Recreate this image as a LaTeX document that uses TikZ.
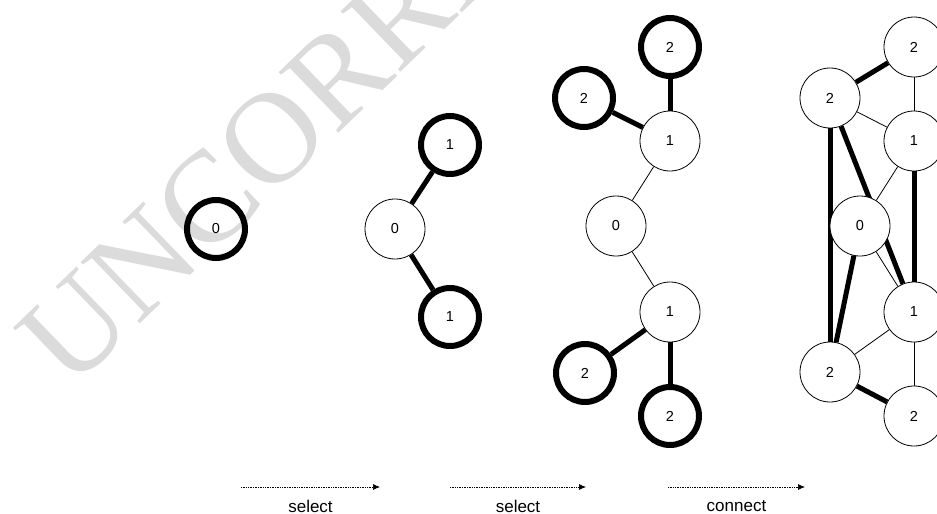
\documentclass[tikz,border=0pt]{standalone}
\usepackage{fontspec}
\setmainfont{Liberation Sans}
\newfontfamily\wmfont{Liberation Serif}
\usetikzlibrary{arrows.meta,positioning}
\pgfdeclarelayer{background}
\pgfsetlayers{background,main}

\tikzset{
  vertex/.style={shape=circle, draw, line width=0.8pt, minimum size=60pt,
    inner sep=0pt, font=\fontsize{14.5}{16}\selectfont},
  picked/.style={vertex, line width=6pt, minimum size=58pt},
  thinedge/.style={line width=0.8pt},
  thickedge/.style={line width=5pt},
  steparrow/.style={densely dotted, line width=0.7pt, -{Latex[length=7pt,width=6pt]}},
  steplabel/.style={below=13pt, inner sep=0pt, font=\fontsize{17}{20}\selectfont},
  wmark/.style={text=black!14, rotate=44, anchor=base west, inner sep=0pt,
    font=\wmfont\fontsize{130}{130}\selectfont}
}

\begin{document}
\begin{tikzpicture}[x=1pt, y=-1pt]
    \useasboundingbox (0,0) rectangle (937,514);
    % start
    \node[picked] (a0) at (216,229) {0};
    % first select
    \node[vertex] (b0) at (395,229) {0};
    \node[picked] (b1u) at (450,145) {1};
    \node[picked] (b1d) at (450,317) {1};
    % second select
    \node[picked] (c2t) at (670,47) {2};
    \node[picked] (c2l) at (584,98) {2};
    \node[vertex] (c1u) at (670,141) {1};
    \node[vertex] (c0) at (616,226) {0};
    \node[vertex] (c1d) at (670,312) {1};
    \node[picked] (c2ld) at (585,373) {2};
    \node[picked] (c2b) at (670,416) {2};
    % connect
    \node[vertex] (d2t) at (914,47) {2};
    \node[vertex] (d2l) at (830,98) {2};
    \node[vertex] (d1u) at (914,141) {1};
    \node[vertex, fill=white] (d0) at (860,226) {0};
    \node[vertex] (d1d) at (914,312) {1};
    \node[vertex] (d2ld) at (830,372) {2};
    \node[vertex] (d2b) at (914,416) {2};
    %
    \begin{pgfonlayer}{background}
      \node[wmark] (wm) at (70,392) {UNCORRECTED};
      %
      \draw[thickedge] (b0) -- (b1u);
      \draw[thickedge] (b0) -- (b1d);
      %
      \draw[thickedge] (c1u) -- (c2t);
      \draw[thickedge] (c1u) -- (c2l);
      \draw[thinedge] (c1u) -- (c0);
      \draw[thinedge] (c0) -- (c1d);
      \draw[thickedge] (c1d) -- (c2ld);
      \draw[thickedge] (c1d) -- (c2b);
      %
      \draw[thickedge] (d2l) -- (d2t);
      \draw[thinedge] (d2t) -- (d1u);
      \draw[thinedge] (d2l) -- (d1u);
      \draw[thinedge] (d1u) -- (d0);
      \draw[thickedge] (d1u) -- (d1d);
      \draw[thickedge] (d2l) -- (d2ld);
      \draw[thickedge] (d2l) -- (d1d);
      \draw[thinedge] (d0) -- (d1d);
      \draw[thickedge] (d0) -- (d2ld);
      \draw[thinedge] (d2ld) -- (d1d);
      \draw[thinedge] (d1d) -- (d2b);
      \draw[thickedge] (d2ld) -- (d2b);
    \end{pgfonlayer}
    %
    \coordinate (s1a) at (241,487);
    \coordinate (s1b) at (380,487);
    \coordinate (s2a) at (450,487);
    \coordinate (s2b) at (586,487);
    \coordinate (s3a) at (668,487);
    \coordinate (s3b) at (805,487);
    \draw[steparrow] (s1a) -- node[steplabel] (l1) {select} (s1b);
    \draw[steparrow] (s2a) -- node[steplabel] (l2) {select} (s2b);
    \draw[steparrow] (s3a) -- node[steplabel] (l3) {connect} (s3b);
\end{tikzpicture}
\end{document}
